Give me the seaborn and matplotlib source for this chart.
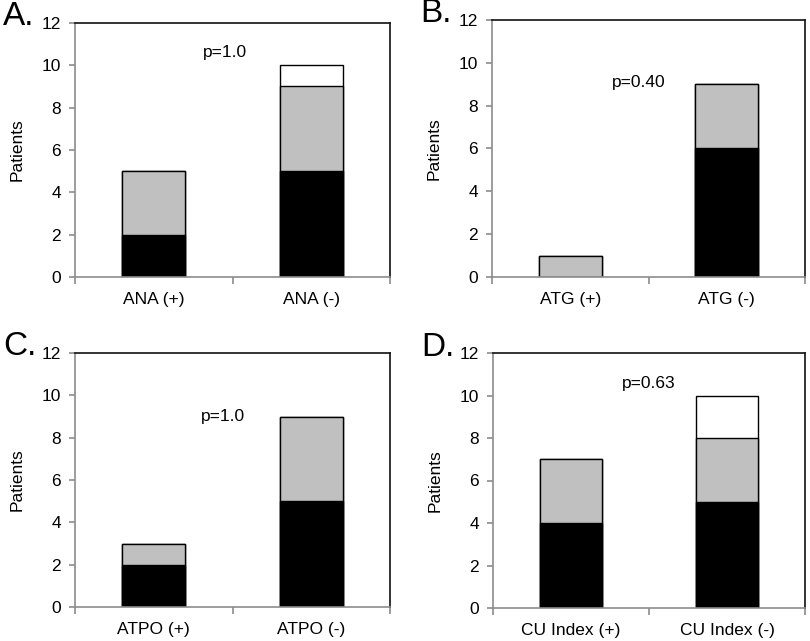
import matplotlib
matplotlib.use("Agg")
import matplotlib.pyplot as plt
import seaborn as sns
import pandas as pd
import numpy as np

sns.set_theme(style="white")
plt.rcParams['font.family'] = ['Liberation Sans', 'DejaVu Sans']
plt.rcParams['text.color'] = 'black'
plt.rcParams['axes.labelcolor'] = 'black'

# ---- data ----
panel_letters = ["A.", "B.", "C.", "D."]
cats_A = ["ANA (+)", "ANA (-)"]
cats_B = ["ATG (+)", "ATG (-)"]
cats_C = ["ATPO (+)", "ATPO (-)"]
cats_D = ["CU Index (+)", "CU Index (-)"]

black_A = [2, 5]; gray_A = [3, 4]; white_A = [0, 1]
black_B = [0, 6]; gray_B = [1, 3]; white_B = [0, 0]
black_C = [2, 5]; gray_C = [1, 4]; white_C = [0, 0]
black_D = [4, 5]; gray_D = [3, 3]; white_D = [0, 2]

p_texts = ["p=1.0", "p=0.40", "p=1.0", "p=0.63"]
p_pos = [(0.45, 10.6), (0.44, 9.1), (0.44, 9.0), (0.50, 10.55)]

y_ticks = [0, 2, 4, 6, 8, 10, 12]

panels = [
    (cats_A, black_A, gray_A, white_A),
    (cats_B, black_B, gray_B, white_B),
    (cats_C, black_C, gray_C, white_C),
    (cats_D, black_D, gray_D, white_D),
]

# axes rectangles in figure fraction (left, bottom, width, height)
W, H = 810, 641
rects = [
    (75 / W, 1 - 277 / H, 315 / W, 254 / H),
    (492 / W, 1 - 277 / H, 313 / W, 257 / H),
    (75 / W, 1 - 607 / H, 315 / W, 254 / H),
    (493 / W, 1 - 608 / H, 312 / W, 255 / H),
]

fig = plt.figure(figsize=(W / 100, H / 100), dpi=100)
fig.patch.set_facecolor("white")

spine_gray = "#8c8c8c"

for i, (cats, blk, gry, wht) in enumerate(panels):
    ax = fig.add_axes(rects[i])
    df = pd.DataFrame({
        "cat": cats,
        "black": blk,
        "gray": gry,
        "white": wht,
    })
    df["lvl_total"] = df["black"] + df["gray"] + df["white"]
    df["lvl_bg"] = df["black"] + df["gray"]
    df["lvl_b"] = df["black"]

    for col, color in [("lvl_total", "white"), ("lvl_bg", "#c0c0c0"), ("lvl_b", "black")]:
        sub = df[df[col] > 0]
        sns.barplot(data=sub, x="cat", y=col, order=cats, color=color,
                    width=0.4, edgecolor="black", linewidth=1.0,
                    saturation=1, ax=ax)

    ax.set_xlim(-0.5, 1.5)
    ax.set_ylim(0, 12)
    ax.set_yticks(y_ticks)
    ax.set_yticklabels([str(t) for t in y_ticks], fontsize=12.5)
    ax.set_xticks([0, 1])
    ax.set_xticklabels(cats, fontsize=12.5)
    ax.set_xticks([-0.5, 0.5, 1.5], minor=True)
    ax.tick_params(axis="x", which="major", bottom=False, length=0, pad=11, labelcolor="black")
    ax.tick_params(axis="x", which="minor", bottom=True, length=5, width=1.2,
                   color=spine_gray, direction="out")
    ax.tick_params(axis="y", which="major", left=True, length=4, width=1.2,
                   color=spine_gray, direction="out", pad=6, labelcolor="black")
    ax.set_xlabel("")
    ax.set_ylabel("Patients", fontsize=12.5, labelpad=12)

    for s in ["left", "bottom"]:
        ax.spines[s].set_color(spine_gray)
        ax.spines[s].set_linewidth(1.2)
        ax.spines[s].set_visible(True)
    for s in ["top", "right"]:
        ax.spines[s].set_color("#111111")
        ax.spines[s].set_linewidth(1.2)
        ax.spines[s].set_visible(True)

    px, py = p_pos[i]
    ax.text(px, py, p_texts[i], ha="center", va="center", fontsize=12.5, color="black")

    l, b, w, h = rects[i]
    fig.text(l - 72 / W, b + h + 6 / H, panel_letters[i], fontsize=24,
             ha="left", va="center", color="black")

fig.savefig("out.png", dpi=100, facecolor="white")
